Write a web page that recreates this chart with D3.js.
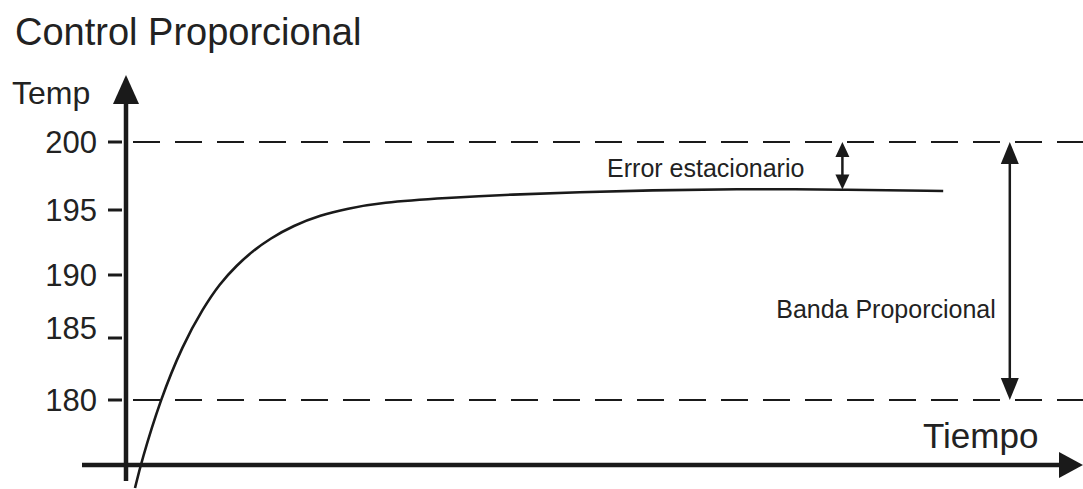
<!DOCTYPE html>
<html>
<head>
<meta charset="utf-8">
<script src="https://cdn.jsdelivr.net/npm/d3@7"></script>
<style>
    html, body { margin: 0; padding: 0; background: #fff; }
    svg text { font-family: 'Liberation Sans', Arial, sans-serif; fill: #222; }
</style>
</head>
<body>
<svg id="chart" width="1083" height="489"></svg>
<script>
// values
var tempTicks = [180, 185, 190, 195, 200];
var tiempo = [1.0, 1.7, 3.8, 6.3, 8.6, 10.4, 12.3, 14.1, 16.0, 18.6, 21.6, 24.6, 28.2, 35.7, 43.0, 50.4, 57.9, 69.0, 79.7, 90.8];
var temperatura = [172.9, 175.0, 180.0, 184.45, 187.4, 189.3, 190.75, 191.85, 192.8, 193.8, 194.6, 195.1, 195.55, 195.9, 196.15, 196.3, 196.45, 196.55, 196.5, 196.4];
var setpoint = 200,
    bandaBaja = 180,
    errorEn = 79.6,
    errorValor = 196.5,
    bandaEn = 98.2;

var ink = '#1a1a1a';

var svg = d3.select('#chart');

var x = d3.scaleLinear().domain([0, 100]).range([126, 1026]);
// the drawing's grid is not quite even, so the scale is piecewise
var y = d3.scaleLinear().domain(tempTicks).range([400, 338, 275, 210, 142]);

function arrowHead(px, py, dir, len, halfW) {
    // dir: 'up', 'down', 'right'
    var pts;
    if (dir === 'up') {
        pts = [[px, py], [px - halfW, py + len], [px + halfW, py + len]];
    } else if (dir === 'down') {
        pts = [[px, py], [px - halfW, py - len], [px + halfW, py - len]];
    } else {
        pts = [[px, py], [px - len, py - halfW], [px - len, py + halfW]];
    }
    svg.append('path')
        .attr('d', 'M' + pts.join('L') + 'Z')
        .attr('fill', ink);
}

// dashed reference lines
[setpoint, bandaBaja].forEach(function(v) {
    svg.append('line')
        .attr('x1', 133).attr('x2', 1083)
        .attr('y1', y(v)).attr('y2', y(v))
        .attr('stroke', ink)
        .attr('stroke-width', 2.2)
        .attr('stroke-dasharray', '27,15');
});

// axes
svg.append('line')
    .attr('x1', 82).attr('x2', 1062)
    .attr('y1', 465).attr('y2', 465)
    .attr('stroke', ink).attr('stroke-width', 4.5);
arrowHead(1083, 465, 'right', 24, 13);

svg.append('line')
    .attr('x1', x(0)).attr('x2', x(0))
    .attr('y1', 481).attr('y2', 100)
    .attr('stroke', ink).attr('stroke-width', 4.5);
arrowHead(x(0), 75, 'up', 29, 13);

// ticks and labels
var ticks = svg.selectAll('g.tick').data(tempTicks).enter()
    .append('g').attr('class', 'tick');
ticks.append('line')
    .attr('x1', 108).attr('x2', 122)
    .attr('y1', function(d) { return y(d); })
    .attr('y2', function(d) { return y(d); })
    .attr('stroke', ink).attr('stroke-width', 3);
ticks.append('text')
    .attr('x', 97)
    .attr('y', function(d) {
        // the 185 label sits above its tick in the original
        return y(d) + (d === 185 ? -10 : 0);
    })
    .attr('dy', '0.36em')
    .attr('text-anchor', 'end')
    .attr('font-size', 31)
    .text(function(d) { return d; });

// response curve
var pts = tiempo.map(function(t, i) { return [t, temperatura[i]]; });
var line = d3.line()
    .x(function(d) { return x(d[0]); })
    .y(function(d) { return y(d[1]); })
    .curve(d3.curveBasis);
svg.append('path')
    .datum(pts)
    .attr('d', line)
    .attr('fill', 'none')
    .attr('stroke', ink)
    .attr('stroke-width', 2.6);

// steady state error arrow
var ex = x(errorEn);
svg.append('line')
    .attr('x1', ex).attr('x2', ex)
    .attr('y1', y(setpoint) + 10).attr('y2', y(errorValor) - 10)
    .attr('stroke', ink).attr('stroke-width', 2.5);
arrowHead(ex, y(setpoint), 'up', 15, 7);
arrowHead(ex, y(errorValor), 'down', 15, 7);

// proportional band arrow
var bx = x(bandaEn);
svg.append('line')
    .attr('x1', bx).attr('x2', bx)
    .attr('y1', y(setpoint) + 15).attr('y2', y(bandaBaja) - 15)
    .attr('stroke', ink).attr('stroke-width', 2.5);
arrowHead(bx, y(setpoint), 'up', 22, 9);
arrowHead(bx, y(bandaBaja), 'down', 22, 9);

// texts
svg.append('text')
    .attr('x', 15).attr('y', 45)
    .attr('font-size', 38)
    .text('Control Proporcional');
svg.append('text')
    .attr('x', 12).attr('y', 104)
    .attr('font-size', 32)
    .text('Temp');
svg.append('text')
    .attr('x', 923).attr('y', 448)
    .attr('font-size', 35)
    .text('Tiempo');
svg.append('text')
    .attr('x', ex - 38).attr('y', 177)
    .attr('text-anchor', 'end')
    .attr('font-size', 25)
    .text('Error estacionario');
svg.append('text')
    .attr('x', bx - 14).attr('y', 318)
    .attr('text-anchor', 'end')
    .attr('font-size', 25)
    .text('Banda Proporcional');
</script>
</body>
</html>
